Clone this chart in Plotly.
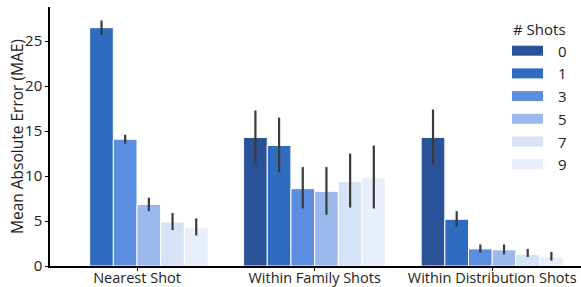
import plotly.graph_objects as go

categories = ["Nearest Shot", "Within Family Shots", "Within Distribution Shots"]
shots = ["0", "1", "3", "5", "7", "9"]
colors = ["#2a5298", "#2f6bbf", "#5b8de0", "#9bb9ec", "#d6e2f6", "#e8effa"]
y_title = "Mean Absolute Error (MAE)"
legend_title = "# Shots"

values = {
    "0": [None, 14.3, 14.3],
    "1": [26.5, 13.4, 5.2],
    "3": [14.1, 8.6, 1.9],
    "5": [6.85, 8.3, 1.8],
    "7": [4.9, 9.4, 1.3],
    "9": [4.3, 9.8, 1.0],
}
err_hi = {
    "0": [0, 17.3, 17.4],
    "1": [27.3, 16.5, 6.1],
    "3": [14.6, 11.0, 2.4],
    "5": [7.6, 11.0, 2.4],
    "7": [5.9, 12.5, 1.9],
    "9": [5.3, 13.4, 1.55],
}
err_lo = {
    "0": [0, 11.4, 11.3],
    "1": [25.7, 10.4, 4.4],
    "3": [13.6, 6.4, 1.5],
    "5": [6.1, 5.7, 1.3],
    "7": [4.0, 6.5, 1.0],
    "9": [3.4, 6.4, 0.6],
}

FONT = "Open Sans"
fig = go.Figure()
for s, c in zip(shots, colors):
    v = values[s]
    plus = [None if vi is None else h - vi for vi, h in zip(v, err_hi[s])]
    minus = [None if vi is None else vi - l for vi, l in zip(v, err_lo[s])]
    fig.add_trace(go.Bar(
        x=categories, y=v, name=s,
        marker=dict(color=c, line=dict(color="white", width=1)),
        error_y=dict(type="data", symmetric=False, array=plus, arrayminus=minus,
                     color="#3a3a3a", thickness=2.2, width=0),
        showlegend=False,
    ))

# plot area in pixels
L, R, T, B = 50, 581, 7, 266
def px(x):
    return (x - L) / (R - L)
def py(y):
    return (B - y) / (B - T)

shapes = []
annotations = [
    dict(x=px(511), y=py(29), xref="paper", yref="paper", text=legend_title, showarrow=False,
         xanchor="left", yanchor="middle", font=dict(size=15, color="#222", family=FONT)),
    dict(x=px(17), y=py(137), xref="paper", yref="paper", text=y_title, showarrow=False,
         textangle=-90, xanchor="center", yanchor="middle",
         font=dict(size=15.5, color="#222", family=FONT)),
]
for i, (s, c) in enumerate(zip(shots, colors)):
    yc = 50.7 + i * 22.7
    shapes.append(dict(type="rect", xref="paper", yref="paper",
                       x0=px(512), x1=px(543), y0=py(yc + 5), y1=py(yc - 5),
                       fillcolor=c, line=dict(width=0), layer="above"))
    annotations.append(dict(x=px(556), y=py(yc), xref="paper", yref="paper", text=s,
                            showarrow=False, xanchor="left", yanchor="middle",
                            font=dict(size=15, color="#222", family=FONT)))

fig.update_layout(
    width=581, height=287,
    margin=dict(l=L, r=581 - R, t=T, b=287 - B, autoexpand=False),
    paper_bgcolor="white", plot_bgcolor="white",
    barmode="group", bargap=0.2, bargroupgap=0,
    font=dict(family=FONT, size=14, color="#222"),
    shapes=shapes, annotations=annotations,
    xaxis=dict(range=[-0.49, 2.5], showline=True, linecolor="black", linewidth=1.5,
               ticks="outside", ticklen=3, tickcolor="black", showgrid=False,
               automargin=False, ticklabelstandoff=-5,
               tickfont=dict(size=14.5, family=FONT)),
    yaxis=dict(range=[0, 28.8], showline=True, linecolor="black", linewidth=1.5,
               ticks="outside", ticklen=3, tickcolor="black", showgrid=False, zeroline=False,
               automargin=False,
               tickvals=[0, 5, 10, 15, 20, 25], tickfont=dict(size=15, family=FONT)),
)

fig.write_html("out.html", config={"displayModeBar": False},
               post_script="document.body.style.margin='0';document.body.style.overflow='hidden';")
